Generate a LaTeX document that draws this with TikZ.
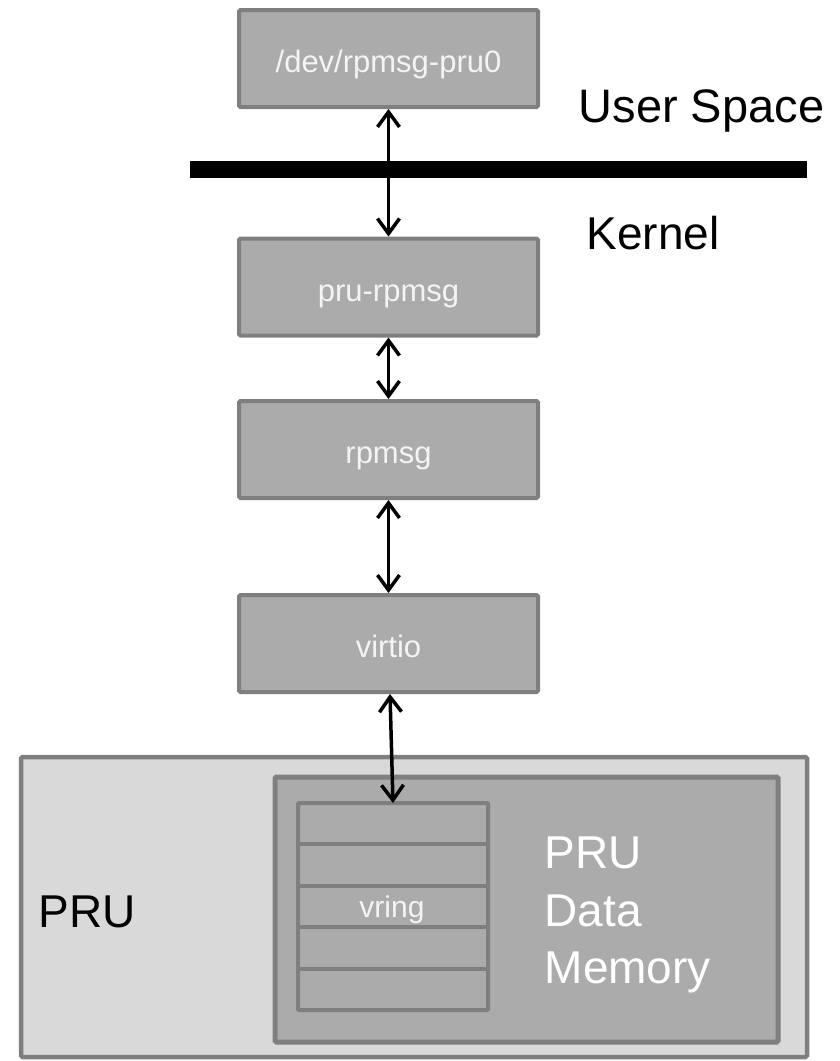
\documentclass[tikz,border=0pt]{standalone}
\usepackage{fontspec}
\setmainfont{Liberation Sans}
\usetikzlibrary{arrows.meta,calc}
\definecolor{boxfill}{HTML}{ABABAB}
\definecolor{boxline}{HTML}{7F7F7F}
\definecolor{prufill}{HTML}{D9D9D9}
\definecolor{boxtext}{HTML}{F4F4F4}
\begin{document}
\begin{tikzpicture}[x=1pt,y=-1pt,
  swbox/.style={draw=boxline, fill=boxfill, line width=4pt, rounded corners=1.5pt,
    minimum width=299pt, minimum height=97pt, inner sep=0pt, text=boxtext,
    font=\fontsize{31}{37}\selectfont, text height=28pt, text depth=0pt},
  link/.style={line width=3.5pt, {Straight Barb[length=15pt,width=22pt]}-{Straight Barb[length=15pt,width=22pt]}},
  bigtext/.style={font=\fontsize{46}{55}\selectfont, inner sep=0pt, anchor=base west},
  divider/.style={draw=boxline, line width=4pt}
]
\useasboundingbox (0,0) rectangle (840,1061);
% software stack
\node[swbox] (dev) at (388.5,58.5) {/dev/rpmsg-pru0};
\node[swbox] (prurpmsg) at (388.5,287) {pru-rpmsg};
\node[swbox] (rpmsg) at (388.5,449.5) {rpmsg};
\node[swbox] (virtio) at (388.5,643.5) {virtio};
% user/kernel boundary
\node[fill=black, minimum width=617pt, minimum height=17pt, inner sep=0pt] (bar) at (498.5,169.5) {};
\node[bigtext, font=\fontsize{47}{56}\selectfont] (user) at (578.5,122) {User Space};
\node[bigtext] (kernel) at (586.5,249) {Kernel};
% PRU
\node[draw=boxline, fill=prufill, line width=4.5pt, rounded corners=1.5pt,
  minimum width=786pt, minimum height=300pt, inner sep=0pt] (pru) at (414,907) {};
\node[bigtext] (prulabel) at (38.5,927) {PRU};
\node[draw=boxline, fill=boxfill, line width=5pt, rounded corners=1.5pt,
  minimum width=503pt, minimum height=265pt, inner sep=0pt] (mem) at (526.5,909.5) {};
\node[draw=boxline, fill=boxfill, line width=4pt, rounded corners=1pt,
  minimum width=190pt, minimum height=207pt, inner sep=0pt, outer sep=0pt] (vring) at (393,906.5) {};
\foreach \f in {0.2,0.4,0.6,0.8}{
  \draw[divider] ($(vring.north west)!\f!(vring.south west)$) -- ($(vring.north east)!\f!(vring.south east)$);
}
\node[anchor=base, inner sep=0pt, text=boxtext, font=\fontsize{30}{36}\selectfont] (vringlabel) at (392,917) {vring};
\node[bigtext, text=white] (mem1) at (544.5,868) {PRU};
\node[bigtext, text=white] (mem2) at (544.5,926) {Data};
\node[bigtext, text=white] (mem3) at (544.5,983) {Memory};
% links
\draw[link] (dev.south) -- (prurpmsg.north);
\draw[link] (prurpmsg.south) -- (rpmsg.north);
\draw[link] (rpmsg.south) -- (virtio.north);
\draw[link] ([xshift=1.5pt]virtio.south) -- (vring.north);
\end{tikzpicture}
\end{document}
